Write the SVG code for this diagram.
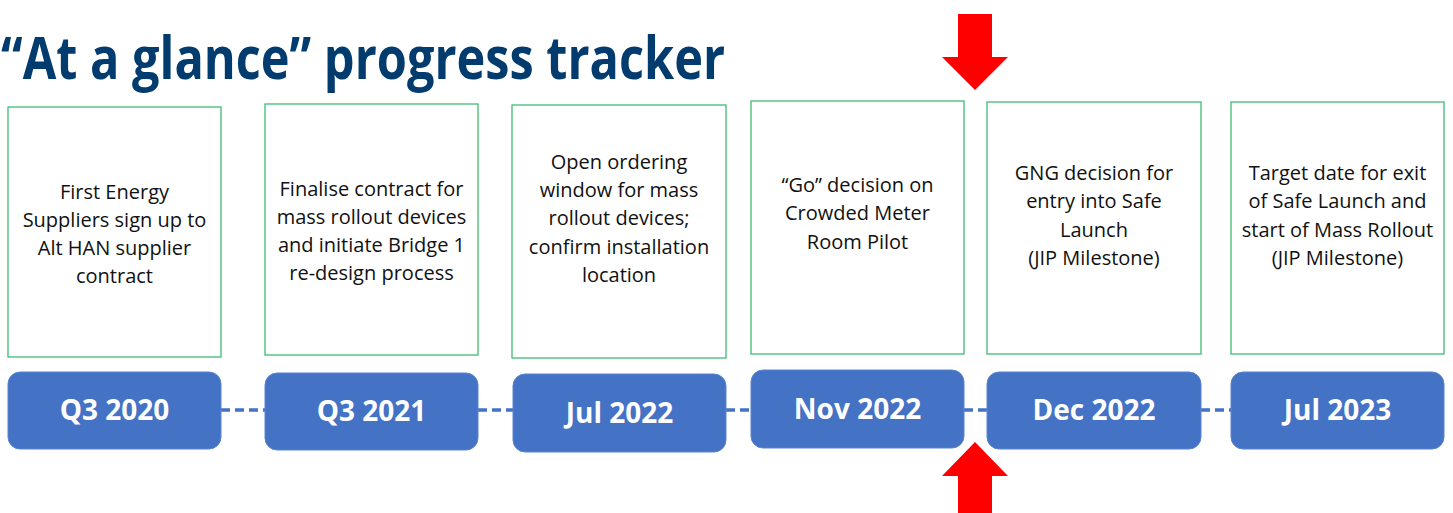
<svg xmlns="http://www.w3.org/2000/svg" width="1453" height="513" viewBox="0 0 1453 513">
<style>
.box{fill:#fff;stroke:#3DBE74;stroke-width:1.3}
.pill{fill:#4472C4;stroke:#5A85D0;stroke-width:1}
.t{font-family:"Open Sans","Liberation Sans",sans-serif;font-size:20px;fill:#111;text-anchor:middle}
.d{font-family:"Open Sans","Liberation Sans",sans-serif;font-size:28px;font-weight:bold;fill:#fff;text-anchor:middle}
.con{stroke:#4472C4;stroke-width:3.5;stroke-dasharray:9 5;fill:none}
.arr{fill:#FF0000}
</style>
<rect width="1453" height="513" fill="#fff"/>
<text x="1" y="79" font-family="'Open Sans','Liberation Sans',sans-serif" font-weight="bold" font-size="59" fill="#023B6E" textLength="724" lengthAdjust="spacingAndGlyphs">“At a glance” progress tracker</text>
<g id="connectors">
<line class="con" x1="221" y1="410" x2="265" y2="410"/>
<line class="con" x1="478" y1="410" x2="513" y2="410"/>
<line class="con" x1="726" y1="410" x2="751" y2="410"/>
<line class="con" x1="964" y1="410" x2="987" y2="410"/>
<line class="con" x1="1201" y1="410" x2="1231" y2="410"/>
</g>
<g id="node1">
<rect class="box" x="8" y="107" width="213" height="250"/>
<text class="t" x="114.5"><tspan x="114.5" y="199">First Energy</tspan><tspan x="114.5" y="227">Suppliers sign up to</tspan><tspan x="114.5" y="255">Alt HAN supplier</tspan><tspan x="114.5" y="283">contract</tspan></text>
<rect class="pill" x="8" y="372" width="213" height="77" rx="12"/>
<text class="d" x="114.5" y="420">Q3 2020</text>
</g>
<g id="node2">
<rect class="box" x="265" y="104" width="213" height="251"/>
<text class="t"><tspan x="371.5" y="196">Finalise contract for</tspan><tspan x="371.5" y="224">mass rollout devices</tspan><tspan x="371.5" y="252">and initiate Bridge 1</tspan><tspan x="371.5" y="280">re-design process</tspan></text>
<rect class="pill" x="265" y="373" width="213" height="77" rx="12"/>
<text class="d" x="371.5" y="421">Q3 2021</text>
</g>
<g id="node3">
<rect class="box" x="512" y="105" width="214" height="253"/>
<text class="t"><tspan x="619" y="169">Open ordering</tspan><tspan x="619" y="197">window for mass</tspan><tspan x="619" y="225">rollout devices;</tspan><tspan x="619" y="254">confirm installation</tspan><tspan x="619" y="282">location</tspan></text>
<rect class="pill" x="513" y="374" width="213" height="78" rx="12"/>
<text class="d" x="619.5" y="423">Jul 2022</text>
</g>
<g id="node4">
<rect class="box" x="751" y="101" width="213" height="253"/>
<text class="t"><tspan x="857.5" y="192">“Go” decision on</tspan><tspan x="857.5" y="220">Crowded Meter</tspan><tspan x="857.5" y="249">Room Pilot</tspan></text>
<rect class="pill" x="751" y="370" width="213" height="78" rx="12"/>
<text class="d" x="857.5" y="419">Nov 2022</text>
</g>
<g id="node5">
<rect class="box" x="987" y="102" width="214" height="252"/>
<text class="t"><tspan x="1094" y="180">GNG decision for</tspan><tspan x="1094" y="208">entry into Safe</tspan><tspan x="1094" y="237">Launch</tspan><tspan x="1094" y="265">(JIP Milestone)</tspan></text>
<rect class="pill" x="987" y="372" width="214" height="77" rx="12"/>
<text class="d" x="1094" y="420">Dec 2022</text>
</g>
<g id="node6">
<rect class="box" x="1231" y="102" width="213" height="252"/>
<text class="t"><tspan x="1337.5" y="180">Target date for exit</tspan><tspan x="1337.5" y="208">of Safe Launch and</tspan><tspan x="1337.5" y="237">start of Mass Rollout</tspan><tspan x="1337.5" y="265">(JIP Milestone)</tspan></text>
<rect class="pill" x="1231" y="372" width="213" height="77" rx="12"/>
<text class="d" x="1337.5" y="420">Jul 2023</text>
</g>
<g id="arrows">
<polygon class="arr" points="958,14 992,14 992,57 1008,57 975,90 942,57 958,57"/>
<polygon class="arr" points="975,442 1008,476 992,476 992,513 958,513 958,476 942,476"/>
</g>
</svg>
